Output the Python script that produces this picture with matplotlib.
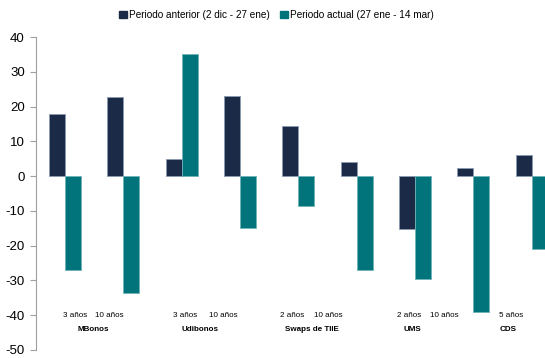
import numpy as np
import matplotlib.pyplot as plt
from matplotlib.patches import Patch

# Cambio en tasas (pb) por instrumento y plazo
plazos = ['3 años', '10 años', '3 años', '10 años', '2 años', '10 años', '2 años', '10 años', '5 años']
grupos = ['MBonos', 'Udibonos', 'Swaps de TIIE', 'UMS', 'CDS']
periodo_anterior = [18, 22.7, 5, 23, 14.3, 4, -15.3, 2.3, 6]
periodo_actual = [-27, -33.5, 35, -15, -8.5, -27, -29.5, -39, -21]

# posiciones de las etiquetas de plazo y de grupo (en unidades de categoría)
pos_plazos = [0.17, 0.75, 2.06, 2.71, 3.89, 4.51, 5.90, 6.50, 7.65]
pos_grupos = [0.48, 2.32, 4.24, 5.95, 7.60]

color_ant = '#1b2a47'
color_act = '#00747a'

plt.rcParams['font.family'] = ['Liberation Sans', 'DejaVu Sans']
plt.rcParams['axes.unicode_minus'] = False

fig = plt.figure(figsize=(5.45, 3.58), dpi=100)
ax = fig.add_axes([36 / 545, 1 - 350 / 358, 1 - 36 / 545, (350 - 37) / 358])

x = np.arange(len(plazos))
w = 0.275
ax.bar(x - w / 2, periodo_anterior, w, color=color_ant, edgecolor='#8a9ab0', linewidth=0.6)
ax.bar(x + w / 2, periodo_actual, w, color=color_act, edgecolor='#6fb3b8', linewidth=0.6)

ax.set_xlim(-0.5, 8.23)
ax.set_ylim(-50, 40)
ax.set_yticks(np.arange(-50, 41, 10))
ax.set_xticks([])
for s in ['top', 'right', 'bottom']:
    ax.spines[s].set_visible(False)
ax.spines['left'].set_color('#a0a0a0')
ax.spines['left'].set_linewidth(0.8)
ax.tick_params(axis='y', colors='#a0a0a0', labelcolor='black', labelsize=9.5, length=4, width=0.8, pad=4)

for p, t in zip(pos_plazos, plazos):
    ax.text(p, -40.2, t, ha='center', va='center', fontsize=5.8)
for p, t in zip(pos_grupos, grupos):
    ax.text(p, -44.2, t, ha='center', va='center', fontsize=5.8, fontweight='bold')

handles = [Patch(color=color_ant, label='Periodo anterior (2 dic - 27 ene)'),
           Patch(color=color_act, label='Periodo actual (27 ene - 14 mar)')]
fig.legend(handles=handles, loc='center', bbox_to_anchor=(276.5 / 545, 1 - 15 / 358), ncol=2,
           frameon=False, fontsize=7.2, handlelength=0.8, handleheight=0.8,
           handletextpad=0.25, columnspacing=1.0, borderpad=0.2)

fig.savefig('out.png', dpi=100)
